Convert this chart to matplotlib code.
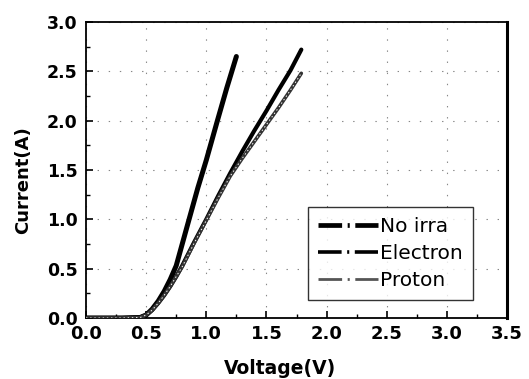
import matplotlib
matplotlib.use("Agg")
import matplotlib.pyplot as plt
from matplotlib.lines import Line2D
from matplotlib.ticker import MultipleLocator

# Data
v_noirra = [0.0, 0.3, 0.45, 0.5, 0.55, 0.6, 0.65, 0.7, 0.75, 0.85, 0.93, 1.0, 1.09, 1.17, 1.25]
i_noirra = [0.0, 0.0, 0.005, 0.03, 0.09, 0.17, 0.27, 0.39, 0.53, 0.97, 1.32, 1.60, 1.99, 2.33, 2.65]

v_elec = [0.0, 0.3, 0.45, 0.5, 0.55, 0.6, 0.65, 0.7, 0.75, 0.8, 0.9, 1.0, 1.1, 1.2, 1.3, 1.4, 1.5, 1.6, 1.7, 1.79]
i_elec = [0.0, 0.0, 0.005, 0.03, 0.08, 0.15, 0.23, 0.32, 0.42, 0.53, 0.77, 1.0, 1.24, 1.47, 1.69, 1.90, 2.10, 2.31, 2.51, 2.72]

v_prot = [0.0, 0.3, 0.45, 0.5, 0.55, 0.6, 0.65, 0.7, 0.75, 0.8, 0.9, 1.0, 1.1, 1.2, 1.3, 1.4, 1.5, 1.6, 1.7, 1.79]
i_prot = [0.0, 0.0, 0.005, 0.03, 0.08, 0.15, 0.23, 0.32, 0.42, 0.52, 0.76, 0.99, 1.22, 1.44, 1.62, 1.79, 1.96, 2.13, 2.31, 2.48]

labels = ["No irra", "Electron", "Proton"]
x_ticks = [0.0, 0.5, 1.0, 1.5, 2.0, 2.5, 3.0, 3.5]
y_ticks = [0.0, 0.5, 1.0, 1.5, 2.0, 2.5, 3.0]

plt.rcParams['font.family'] = ['DejaVu Sans']
plt.rcParams['lines.scale_dashes'] = False

fig = plt.figure(figsize=(5.29, 3.79), dpi=100)
ax = fig.add_axes([0.1626, 0.161, 0.7958, 0.781])

ax.plot(v_noirra, i_noirra, color='black', lw=3.6, solid_capstyle='round', zorder=3)
ax.plot(v_elec, i_elec, color='black', lw=3.0, solid_capstyle='round', zorder=3)
ax.plot(v_prot, i_prot, color='#333333', lw=2.6, solid_capstyle='round', zorder=3)
ax.plot(v_prot, i_prot, color='white', lw=0.7, ls=(0, (1, 2)), zorder=4)

ax.set_xlim(0, 3.5)
ax.set_ylim(0, 3.0)
ax.set_xticks(x_ticks)
ax.set_yticks(y_ticks)
ax.set_xticklabels([f"{t:.1f}" for t in x_ticks], fontsize=13, fontweight='bold')
ax.set_yticklabels([f"{t:.1f}" for t in y_ticks], fontsize=12.5, fontweight='bold')
ax.xaxis.set_minor_locator(MultipleLocator(0.25))
ax.yaxis.set_minor_locator(MultipleLocator(0.25))
ax.tick_params(which='major', direction='in', length=5, width=1.2, top=False, right=False)
ax.tick_params(axis='x', which='major', pad=5)
ax.tick_params(axis='y', which='major', pad=6)
ax.tick_params(which='minor', direction='in', length=3, width=1.0, top=False, right=False)

ax.grid(True, which='major', color='#888888', lw=0.8, ls=(0, (1, 7)))

for s in ['left', 'bottom', 'top']:
    ax.spines[s].set_linewidth(1.3)
ax.spines['right'].set_linewidth(2.2)

ax.set_xlabel("Voltage(V)", fontsize=13.5, fontweight='bold')
ax.xaxis.label.set_va('center')
ax.xaxis.set_label_coords(0.461, -0.17)
ax.set_ylabel("Current(A)", fontsize=13, fontweight='bold')
ax.yaxis.label.set_va('center')
ax.yaxis.set_label_coords(-0.15, 0.466)

handles = [
    Line2D([], [], color='black', lw=3.4, ls=(0, (17, 4, 1.5, 4))),
    Line2D([], [], color='black', lw=2.6, ls=(0, (17, 4, 1.5, 4))),
    Line2D([], [], color='#555555', lw=2.0, ls=(0, (17, 4, 1.5, 4))),
]
leg = ax.legend(handles, labels, loc='lower right', bbox_to_anchor=(0.919, 0.061),
                fontsize=14.5, frameon=True, fancybox=False, handlelength=3.0,
                handletextpad=0.1, borderpad=0.5, labelspacing=0.4, borderaxespad=0)
leg.get_frame().set_edgecolor('black')
leg.get_frame().set_linewidth(1.0)

fig.savefig("out.png", dpi=100)
